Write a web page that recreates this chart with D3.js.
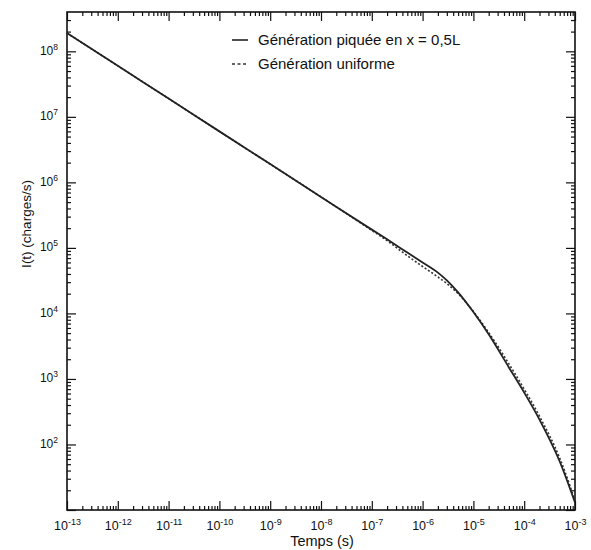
<!DOCTYPE html>
<html><head><meta charset="utf-8">
<script src="https://cdn.jsdelivr.net/npm/d3@7"></script>
<style>body{margin:0;background:#fff}svg{display:block}text{font-family:"Liberation Sans",Arial,sans-serif;fill:#111}</style>
</head><body><svg id="c" width="591" height="550"></svg>
<script>
const timeValues = [1e-13,1e-12,1e-11,1e-10,1e-9,1e-8,1e-7,2e-7,5e-7,1e-6,2e-6,3e-6,5e-6,1e-5,2e-5,5e-5,1e-4,2e-4,5e-4,1e-3];
const peakedValues = [1.9e8,6.0e7,1.9e7,6.0e6,1.9e6,6.0e5,1.9e5,1.35e5,8.5e4,6.0e4,4.2e4,3.2e4,2.1e4,1.05e4,4.8e3,1.5e3,620,240,55,13];
const uniformValues = [1.9e8,6.0e7,1.9e7,6.0e6,1.9e6,6.0e5,1.85e5,1.29e5,7.6e4,5.2e4,3.6e4,2.85e4,2.0e4,1.07e4,5.1e3,1.7e3,700,270,62,14];
const seriesNames = ["Génération piquée en x = 0,5L", "Génération uniforme"];
const xMajorExp = [-13,-12,-11,-10,-9,-8,-7,-6,-5,-4,-3];
const yMajorExp = [2,3,4,5,6,7,8];
const xTitle = "Temps (s)";
const yTitle = "I(t) (charges/s)";

const L = 67, R = 575, T = 12, B = 510;
const svg = d3.select("#c");
const x = d3.scaleLog().domain([1e-13, 1e-3]).range([L, R]);
const y = d3.scaleLog().domain([10, Math.pow(10, 8.6)]).range([B, T]);

function allTicks(lo, hi) {
  const out = [];
  for (let e = lo; e < hi; e++) for (let m = 1; m < 10; m++) out.push(m * Math.pow(10, e));
  out.push(Math.pow(10, hi));
  return out;
}
const xTicks = allTicks(-13, -3);
const yTicks = allTicks(1, 8).concat([2e8, 3e8]);
const isMajor = v => Math.abs(Math.log10(v) - Math.round(Math.log10(v))) < 1e-9;

function styleAxis(g, sign, horiz) {
  g.select(".domain").remove();
  g.selectAll(".tick line").attr("stroke", "#111").attr("stroke-width", 1.2)
    .each(function(d){
      const len = (isMajor(d) ? 9 : 4) * sign;
      d3.select(this).attr(horiz ? "y2" : "x2", len);
    });
}
// bottom
const gB = svg.append("g").attr("transform", `translate(0,${B})`)
  .call(d3.axisBottom(x).tickValues(xTicks).tickSize(-4).tickFormat(""));
styleAxis(gB, -1, true);
gB.selectAll(".tick text").each(function(d){
  const e = Math.round(Math.log10(d));
  if (!isMajor(d) || !xMajorExp.includes(e)) return;
  const t = d3.select(this).attr("font-size", 12.5).attr("y", 20).attr("dy", 0);
  t.append("tspan").text("10");
  t.append("tspan").attr("font-size", 9).attr("dy", -5).text(e);
});
// top
const gT = svg.append("g").attr("transform", `translate(0,${T})`)
  .call(d3.axisTop(x).tickValues(xTicks).tickSize(-4).tickFormat(""));
styleAxis(gT, 1, true);
// left
const gL = svg.append("g").attr("transform", `translate(${L},0)`)
  .call(d3.axisLeft(y).tickValues(yTicks).tickSize(-4).tickFormat(""));
styleAxis(gL, 1, false);
gL.selectAll(".tick text").each(function(d){
  const e = Math.round(Math.log10(d));
  if (!isMajor(d) || !yMajorExp.includes(e)) return;
  const t = d3.select(this).attr("font-size", 12).attr("dy", "0.25em").attr("x", -9);
  t.append("tspan").text("10");
  t.append("tspan").attr("font-size", 8.5).attr("dy", -5).text(e);
});
// right
const gR = svg.append("g").attr("transform", `translate(${R},0)`)
  .call(d3.axisRight(y).tickValues(yTicks).tickSize(-4).tickFormat(""));
styleAxis(gR, -1, false);

svg.append("rect").attr("x", L).attr("y", T).attr("width", R - L).attr("height", B - T)
  .attr("fill", "none").attr("stroke", "#111").attr("stroke-width", 1.6);

const line = d3.line().x((d,i) => x(timeValues[i])).y(d => y(d)).curve(d3.curveMonotoneX);
svg.append("path").datum(uniformValues).attr("d", line).attr("fill", "none")
  .attr("stroke", "#333").attr("stroke-width", 1.6).attr("stroke-dasharray", "2,2");
svg.append("path").datum(peakedValues).attr("d", line).attr("fill", "none")
  .attr("stroke", "#222").attr("stroke-width", 1.8);

// legend
const leg = svg.append("g");
leg.append("line").attr("x1", 232).attr("x2", 248).attr("y1", 40).attr("y2", 40).attr("stroke", "#222").attr("stroke-width", 1.6);
leg.append("line").attr("x1", 232).attr("x2", 248).attr("y1", 64).attr("y2", 64).attr("stroke", "#333").attr("stroke-width", 1.4).attr("stroke-dasharray", "3,2.5");
leg.append("text").attr("x", 258).attr("y", 45).attr("font-size", 15).text(seriesNames[0]);
leg.append("text").attr("x", 258).attr("y", 69).attr("font-size", 15).text(seriesNames[1]);

svg.append("text").attr("x", 322).attr("y", 546).attr("text-anchor", "middle").attr("font-size", 14.5).text(xTitle);
svg.append("text").attr("transform", "translate(31,224) rotate(-90)").attr("text-anchor", "middle").attr("font-size", 13.5).text(yTitle);
</script></body></html>
